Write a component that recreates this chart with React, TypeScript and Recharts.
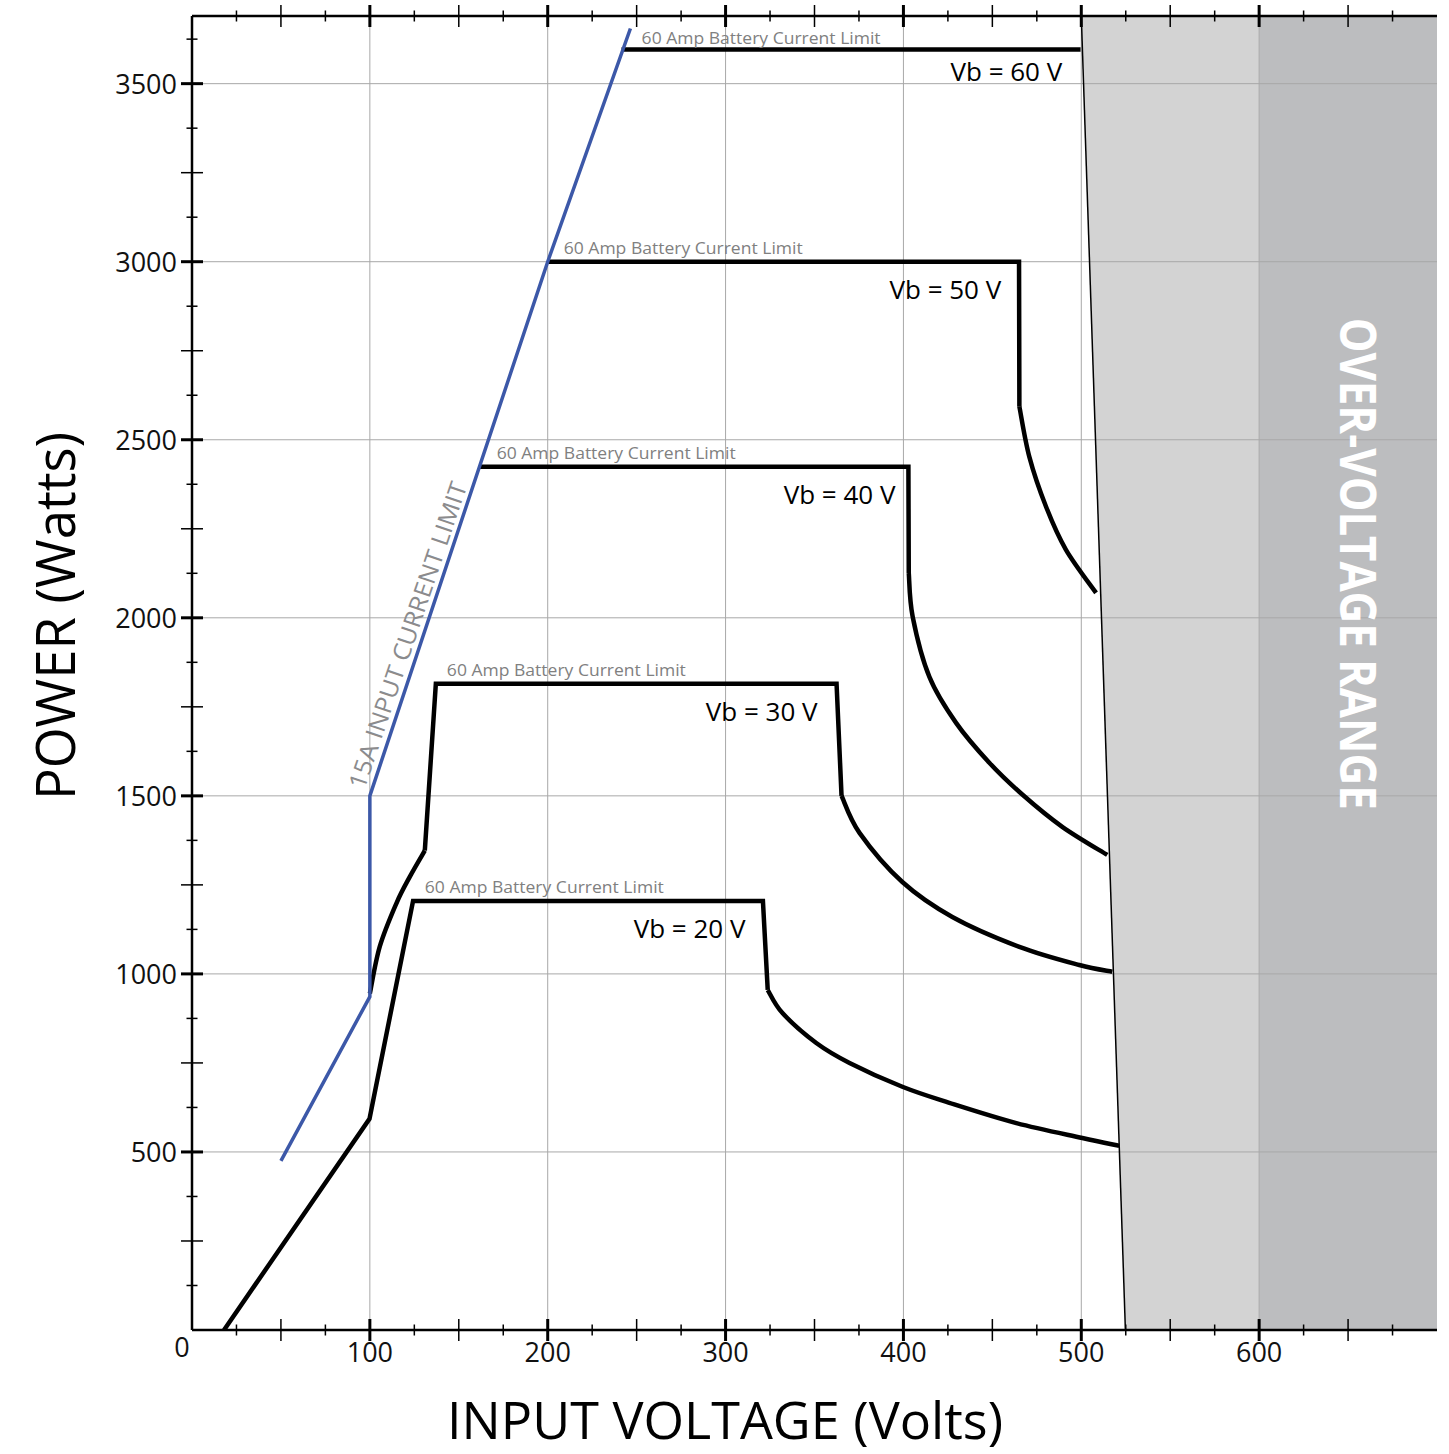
import React from "react";
import {
  ComposedChart,
  Line,
  Area,
  XAxis,
  YAxis,
  ReferenceLine,
  ReferenceDot,
  Label,
} from "recharts";

const FONT = "'Open Sans', 'Noto Sans', sans-serif";
const Y_MAX = 3690;

// tick positions (Volts / Watts)
const xMajorTicks = [100, 200, 300, 400, 500, 600];
const xMidTicks = [50, 150, 250, 350, 450, 550, 650];
const xMinorTicks = [25, 75, 125, 175, 225, 275, 325, 375, 425, 475, 525, 575, 625, 675];
const yMajorTicks = [500, 1000, 1500, 2000, 2500, 3000, 3500];
const yMidTicks = [250, 750, 1250, 1750, 2250, 2750, 3250];
const yMinorTicks = [125, 375, 625, 875, 1125, 1375, 1625, 1875, 2125, 2375, 2625, 2875, 3125, 3375, 3625];
const xTicks = [0, ...xMajorTicks, ...xMidTicks, ...xMinorTicks].sort((a, b) => a - b);
const yTicks = [...yMajorTicks, ...yMidTicks, ...yMinorTicks].sort((a, b) => a - b);

// over-voltage zone
const lightZone = [
  { v: 500, lo: Y_MAX, hi: Y_MAX },
  { v: 524.8, lo: 0, hi: Y_MAX },
  { v: 600, lo: 0, hi: Y_MAX },
];
const darkZone = [
  { v: 600, lo: 0, hi: Y_MAX },
  { v: 700, lo: 0, hi: Y_MAX },
];
const zoneEdge = [
  { v: 500, w: Y_MAX },
  { v: 524.8, w: 0 },
];

// 15A input current limit
const blueLimit = [
  { v: 50, w: 475 },
  { v: 100, w: 936 },
  { v: 100, w: 1500 },
  { v: 200, w: 3000 },
  { v: 246.5, w: 3655 },
];

// power curves per battery voltage
const vb20Head = [
  { v: 18, w: 0 },
  { v: 99.8, w: 593 },
  { v: 124.3, w: 1205 },
  { v: 321, w: 1205 },
  { v: 323.7, w: 955 },
];
const vb20Tail = [
  { v: 323.7, w: 955 },
  { v: 332, w: 890 },
  { v: 351, w: 806 },
  { v: 369.7, w: 750 },
  { v: 399.4, w: 683 },
  { v: 425.8, w: 638 },
  { v: 463.5, w: 581 },
  { v: 500.6, w: 539 },
  { v: 521.3, w: 517 },
];
const vb30Rise = [
  { v: 100, w: 945 },
  { v: 105.6, w: 1077 },
  { v: 115, w: 1199 },
  { v: 122.5, w: 1273 },
  { v: 130.9, w: 1346 },
];
const vb30Head = [
  { v: 130.9, w: 1346 },
  { v: 137.1, w: 1815 },
  { v: 362.4, w: 1815 },
  { v: 365.2, w: 1500 },
];
const vb30Tail = [
  { v: 365.2, w: 1500 },
  { v: 375.3, w: 1396 },
  { v: 399.4, w: 1258 },
  { v: 427.5, w: 1160 },
  { v: 465.2, w: 1076 },
  { v: 498.9, w: 1025 },
  { v: 517.4, w: 1006 },
];
const vb40Head = [
  { v: 161.6, w: 2424 },
  { v: 402.8, w: 2424 },
  { v: 403, w: 2126 },
];
const vb40Tail = [
  { v: 403, w: 2126 },
  { v: 405.2, w: 2003 },
  { v: 414.6, w: 1834 },
  { v: 429.6, w: 1705 },
  { v: 448.3, w: 1593 },
  { v: 467, w: 1503 },
  { v: 489.3, w: 1413 },
  { v: 514.6, w: 1334 },
];
const vb50Head = [
  { v: 200, w: 3000 },
  { v: 465, w: 3000 },
  { v: 465.2, w: 2593 },
];
const vb50Tail = [
  { v: 465.2, w: 2593 },
  { v: 470.8, w: 2452 },
  { v: 480.2, w: 2312 },
  { v: 491.4, w: 2191 },
  { v: 508.3, w: 2070 },
];
const vb60Head = [
  { v: 241.5, w: 3596 },
  { v: 499.6, w: 3596 },
];

const straightLines = [vb20Head, vb30Head, vb40Head, vb50Head, vb60Head];
const curvedLines = [vb20Tail, vb30Rise, vb30Tail, vb40Tail, vb50Tail];

// annotations
const ampLabels = [
  { v: 130.9, w: 1228 },
  { v: 143.3, w: 1837 },
  { v: 171.3, w: 2447 },
  { v: 209, w: 3022 },
  { v: 252.8, w: 3612 },
];
const vbLabels = [
  { text: "Vb = 20 V", v: 311.2, w: 1126 },
  { text: "Vb = 30 V", v: 351.7, w: 1736 },
  { text: "Vb = 40 V", v: 395.5, w: 2345 },
  { text: "Vb = 50 V", v: 455, w: 2921 },
  { text: "Vb = 60 V", v: 489.3, w: 3534 },
];
const gridX = [100, 200, 300, 400, 500, 600];
const gridY = [500, 1000, 1500, 2000, 2500, 3000, 3500];

// smooth curve through the read points (Catmull-Rom in pixel space)
function catmullRom(context: any) {
  let pts: number[][] = [];
  return {
    areaStart() {},
    areaEnd() {},
    lineStart() {
      pts = [];
    },
    point(x: number, y: number) {
      pts.push([+x, +y]);
    },
    lineEnd() {
      if (!pts.length) return;
      context.moveTo(pts[0][0], pts[0][1]);
      for (let i = 0; i < pts.length - 1; i++) {
        const p0 = pts[i - 1] || pts[i];
        const p1 = pts[i];
        const p2 = pts[i + 1];
        const p3 = pts[i + 2] || p2;
        context.bezierCurveTo(
          p1[0] + (p2[0] - p0[0]) / 6,
          p1[1] + (p2[1] - p0[1]) / 6,
          p2[0] - (p3[0] - p1[0]) / 6,
          p2[1] - (p3[1] - p1[1]) / 6,
          p2[0],
          p2[1]
        );
      }
    },
  };
}

function XTick(props: any) {
  const { x, y, payload, side } = props;
  const v = payload.value;
  const major = xMajorTicks.includes(v);
  const half = xMinorTicks.includes(v) ? 5.5 : 11;
  return (
    <g>
      {v !== 0 && (
        <line x1={x} x2={x} y1={y - half} y2={y + half} stroke="#000" strokeWidth={major ? 3 : 1.5} />
      )}
      {side === "bottom" && major && (
        <text x={x} y={y + 32} textAnchor="middle" fontFamily={FONT} fontSize={27} fill="#111">
          {v}
        </text>
      )}
      {side === "bottom" && v === 0 && (
        <text x={x - 10} y={y + 27} textAnchor="middle" fontFamily={FONT} fontSize={27} fill="#111">
          0
        </text>
      )}
    </g>
  );
}

function YTick(props: any) {
  const { x, y, payload } = props;
  const v = payload.value;
  const major = yMajorTicks.includes(v);
  const half = yMinorTicks.includes(v) ? 5.5 : 11;
  return (
    <g>
      <line x1={x - half} x2={x + half} y1={y} y2={y} stroke="#000" strokeWidth={major ? 3 : 1.5} />
      {major && (
        <text x={x - 15} y={y + 10} textAnchor="end" fontFamily={FONT} fontSize={27} fill="#111">
          {v}
        </text>
      )}
    </g>
  );
}

const XTitle = (props: any) => {
  const vb = props.viewBox;
  return (
    <text
      x={vb.x + 533}
      y={vb.y + 109}
      textAnchor="middle"
      fontFamily={FONT}
      fontSize={52}
      textLength={556}
      lengthAdjust="spacingAndGlyphs"
      fill="#000"
    >
      INPUT VOLTAGE (Volts)
    </text>
  );
};

const YTitle = (props: any) => {
  const vb = props.viewBox;
  const cx = vb.x + 75;
  const cy = vb.y + 600;
  return (
    <text
      x={cx}
      y={cy}
      transform={`rotate(-90, ${cx}, ${cy})`}
      textAnchor="middle"
      fontFamily={FONT}
      fontSize={54}
      textLength={368}
      lengthAdjust="spacingAndGlyphs"
      fill="#000"
    >
      POWER (Watts)
    </text>
  );
};

export default function App() {
  return (
    <div style={{ position: "absolute", left: 0, top: 0, width: 1449, height: 1454, background: "#fff" }}>
      <ComposedChart width={1449} height={1454} margin={{ top: 0, right: 12, bottom: 0, left: 0 }}>
        <XAxis
          type="number"
          dataKey="v"
          domain={[0, 700]}
          ticks={xTicks}
          interval={0}
          height={124}
          tickSize={0}
          tickMargin={0}
          tickLine={false}
          axisLine={{ stroke: "#000", strokeWidth: 2.5 }}
          tick={<XTick side="bottom" />}
          allowDataOverflow
        >
          <Label content={XTitle} />
        </XAxis>
        <XAxis
          xAxisId="top"
          orientation="top"
          type="number"
          dataKey="v"
          domain={[0, 700]}
          ticks={xTicks}
          interval={0}
          height={16}
          tickSize={0}
          tickMargin={0}
          tickLine={false}
          axisLine={{ stroke: "#000", strokeWidth: 2.5 }}
          tick={<XTick side="top" />}
          allowDataOverflow
        />
        <YAxis
          type="number"
          domain={[0, Y_MAX]}
          ticks={yTicks}
          interval={0}
          width={192}
          tickSize={0}
          tickMargin={0}
          tickLine={false}
          axisLine={{ stroke: "#000", strokeWidth: 2.5 }}
          tick={<YTick />}
          allowDataOverflow
        >
          <Label content={YTitle} />
        </YAxis>

        <Area
          data={darkZone}
          dataKey={(d: any) => [d.lo, d.hi]}
          type="linear"
          stroke="none"
          fill="#bcbdbf"
          fillOpacity={1}
          isAnimationActive={false}
          activeDot={false}
        />
        <Area
          data={lightZone}
          dataKey={(d: any) => [d.lo, d.hi]}
          type="linear"
          stroke="none"
          fill="#d3d3d3"
          fillOpacity={1}
          isAnimationActive={false}
          activeDot={false}
        />

        <ReferenceDot
          x={656.2}
          y={2152}
          r={0}
          ifOverflow="visible"
          shape={(p: any) => (
            <text
              x={p.cx}
              y={p.cy}
              transform={`rotate(90, ${p.cx}, ${p.cy})`}
              textAnchor="middle"
              dominantBaseline="central"
              fontFamily={FONT}
              fontWeight="bold"
              fontSize={50}
              textLength={492}
              lengthAdjust="spacingAndGlyphs"
              fill="#fff"
            >
              OVER-VOLTAGE RANGE
            </text>
          )}
        />

        {gridX.map((g) => (
          <ReferenceLine key={`gx${g}`} x={g} stroke="#a8a8a8" strokeWidth={1} />
        ))}
        {gridY.map((g) => (
          <ReferenceLine key={`gy${g}`} y={g} stroke="#a8a8a8" strokeWidth={1} />
        ))}

        <Line
          data={zoneEdge}
          dataKey="w"
          type="linear"
          stroke="#000"
          strokeWidth={1.5}
          dot={false}
          activeDot={false}
          isAnimationActive={false}
        />

        {straightLines.map((d, i) => (
          <Line
            key={`s${i}`}
            data={d}
            dataKey="w"
            type="linear"
            stroke="#000"
            strokeWidth={4.5}
            dot={false}
            activeDot={false}
            isAnimationActive={false}
          />
        ))}
        {curvedLines.map((d, i) => (
          <Line
            key={`c${i}`}
            data={d}
            dataKey="w"
            type={catmullRom as any}
            stroke="#000"
            strokeWidth={4.5}
            dot={false}
            activeDot={false}
            isAnimationActive={false}
          />
        ))}
        <Line
          data={blueLimit}
          dataKey="w"
          type="linear"
          stroke="#3c58a8"
          strokeWidth={3.5}
          dot={false}
          activeDot={false}
          isAnimationActive={false}
        />

        {ampLabels.map((l, i) => (
          <ReferenceDot
            key={`a${i}`}
            x={l.v}
            y={l.w}
            r={0}
            ifOverflow="visible"
            shape={(p: any) => (
              <text
                x={p.cx}
                y={p.cy}
                fontFamily={FONT}
                fontSize={17}
                textLength={239}
                lengthAdjust="spacingAndGlyphs"
                fill="#808080"
              >
                60 Amp Battery Current Limit
              </text>
            )}
          />
        ))}
        {vbLabels.map((l, i) => (
          <ReferenceDot
            key={`l${i}`}
            x={l.v}
            y={l.w}
            r={0}
            ifOverflow="visible"
            shape={(p: any) => (
              <text
                x={p.cx}
                y={p.cy + 9}
                textAnchor="end"
                fontFamily={FONT}
                fontSize={26}
                fill="#000"
              >
                {l.text}
              </text>
            )}
          />
        ))}
        <ReferenceDot
          x={120.8}
          y={1952}
          r={0}
          ifOverflow="visible"
          shape={(p: any) => (
            <text
              x={p.cx}
              y={p.cy}
              transform={`rotate(-71.3, ${p.cx}, ${p.cy})`}
              textAnchor="middle"
              dominantBaseline="central"
              fontFamily={FONT}
              fontSize={24}
              textLength={322}
              lengthAdjust="spacingAndGlyphs"
              fill="#8b8b8d"
            >
              15A INPUT CURRENT LIMIT
            </text>
          )}
        />
      </ComposedChart>
    </div>
  );
}
